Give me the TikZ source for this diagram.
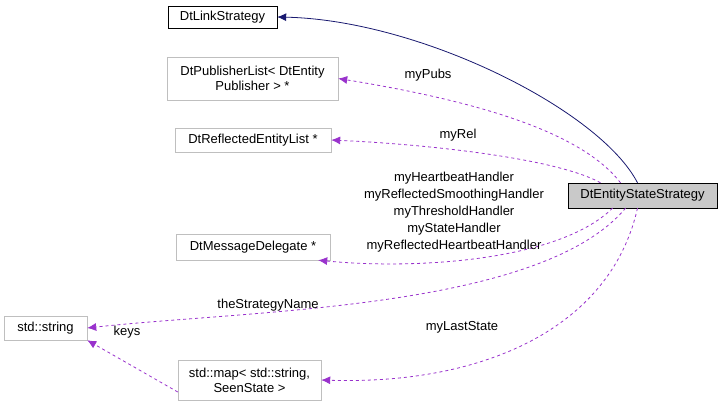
\documentclass[tikz,border=0pt]{standalone}
\usepackage{fontspec}
\setmainfont{Liberation Sans}
\usetikzlibrary{arrows.meta}
\begin{document}
\begin{tikzpicture}[x=1pt,y=-1pt,
  box/.style={draw=#1,rectangle,inner sep=0pt,align=center,font=\fontsize{13}{15}\selectfont},
  lbl/.style={font=\fontsize{13}{17}\selectfont,align=center,inner sep=0pt},
  use/.style={draw={rgb,255:red,153;green,50;blue,204},line width=0.8pt,dashed,-{Latex[length=9pt,width=8pt]}},
  inh/.style={draw={rgb,255:red,25;green,25;blue,112},line width=0.8pt,-{Latex[length=9pt,width=8pt]}}]
\useasboundingbox (0,0) rectangle (725,401);
\node[box=black,minimum width=109,minimum height=22] (link) at (222.5,17) {DtLinkStrategy};
\node[box=lightgray,minimum width=171,minimum height=43] (pub) at (252.5,78.5) {DtPublisherList< DtEntity\\Publisher > *};
\node[box=lightgray,minimum width=156,minimum height=24] (rel) at (253,140) {DtReflectedEntityList *};
\node[box=black,fill=lightgray!85,minimum width=149,minimum height=25] (ess) at (642.5,195.5) {DtEntityStateStrategy};
\node[box=lightgray,minimum width=154,minimum height=26] (msg) at (253,247) {DtMessageDelegate *};
\node[box=lightgray,minimum width=83,minimum height=24] (str) at (45.5,328) {std::string};
\node[box=lightgray,minimum width=143,minimum height=40] (map) at (249.5,380) {std::map< std::string,\\SeenState >};
\draw[inh] ([xshift=-5]ess.north) .. controls (600,110) and (420,20) .. (link.east);
\draw[use] ([xshift=-22]ess.north) .. controls (580,130) and (470,100) .. (pub.east);
\draw[use] ([xshift=-42]ess.north) .. controls (560,160) and (440,145) .. (rel.east);
\draw[use] ([xshift=-30]ess.south) .. controls (560,260) and (420,270) .. ([xshift=-12]msg.south east);
\draw[use] ([xshift=-17]ess.south) .. controls (540,310) and (250,310) .. (str.east);
\draw[use] ([xshift=-5]ess.south) .. controls (610,330) and (480,385) .. (map.east);
\draw[use] ([yshift=-12]map.west) -- (str.south east);
\node[lbl] at (428,75) {myPubs};
\node[lbl] at (458,135) {myRel};
\node[lbl] at (454,212) {myHeartbeatHandler\\myReflectedSmoothingHandler\\myThresholdHandler\\myStateHandler\\myReflectedHeartbeatHandler};
\node[lbl] at (268,305) {theStrategyName};
\node[lbl] at (462,327) {myLastState};
\node[lbl] at (127,332) {keys};
\end{tikzpicture}
\end{document}
